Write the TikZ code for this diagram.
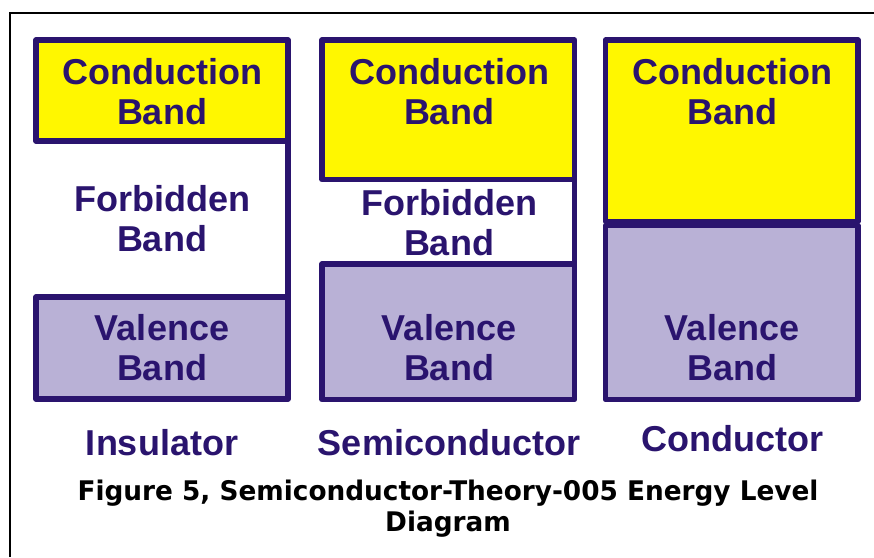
\documentclass[tikz,border=0pt]{standalone}
\usepackage{fontspec}
\setmainfont{Liberation Sans}
\newfontfamily\capfont[FakeStretch=0.975]{DejaVu Sans}
\definecolor{navy}{RGB}{42,20,110}
\definecolor{cyellow}{RGB}{255,247,0}
\definecolor{lav}{RGB}{185,177,214}
\tikzset{
  bandline/.style={draw=navy, line width=5.5pt, line join=round},
  condband/.style={bandline, fill=cyellow},
  valband/.style={bandline, fill=lav},
  lbl/.style={text=navy, align=center, inner sep=0pt, font=\fontsize{36}{40}\selectfont\bfseries},
  caption/.style={text=black, inner sep=0pt, anchor=base, font=\capfont\fontsize{27}{31}\selectfont\bfseries}
}
\begin{document}
\begin{tikzpicture}[x=1pt,y=-1pt]
\useasboundingbox (0,0) rectangle (874,557);
\fill[white] (0,0) rectangle (874,557);
% outer frame
\draw[black, line width=2.5pt] (10,557) -- (10,13) -- (874,13);
% Insulator
\path[condband] (36,40) rectangle (288,141);
\path[valband] (36,297) rectangle (288,399);
\coordinate (i1) at (288,141);
\coordinate (i2) at (288,297);
\draw[bandline] (i1) -- (i2);
% Semiconductor
\path[condband] (322,40) rectangle (574.5,179.5);
\path[valband] (322,264) rectangle (574.5,399.5);
\coordinate (s1) at (574.5,179.5);
\coordinate (s2) at (574.5,264);
\draw[bandline] (s1) -- (s2);
% Conductor
\path[condband] (605.5,40) rectangle (858,221.5);
\path[valband] (605.5,225.5) rectangle (858,399.5);
% labels
\node[lbl] (ic) at (162,91.5) {Conduction\\Band};
\node[lbl] (if) at (162,219) {Forbidden\\Band};
\node[lbl] (iv) at (162,348) {Valence\\Band};
\node[lbl] (sc) at (449,91.5) {Conduction\\Band};
\node[lbl] (sf) at (449,223) {Forbidden\\Band};
\node[lbl] (sv) at (449,348) {Valence\\Band};
\node[lbl] (cc) at (732,91.5) {Conduction\\Band};
\node[lbl] (cv) at (732,348) {Valence\\Band};
\node[lbl] (ins) at (162,443) {Insulator};
\node[lbl] (sem) at (449,443) {Semiconductor};
\node[lbl] (con) at (732,439) {Conductor};
\node[caption] (cap1) at (448,500) {Figure 5, Semiconductor-Theory-005 Energy Level};
\node[caption] (cap2) at (448,531) {Diagram};
\end{tikzpicture}
\end{document}
